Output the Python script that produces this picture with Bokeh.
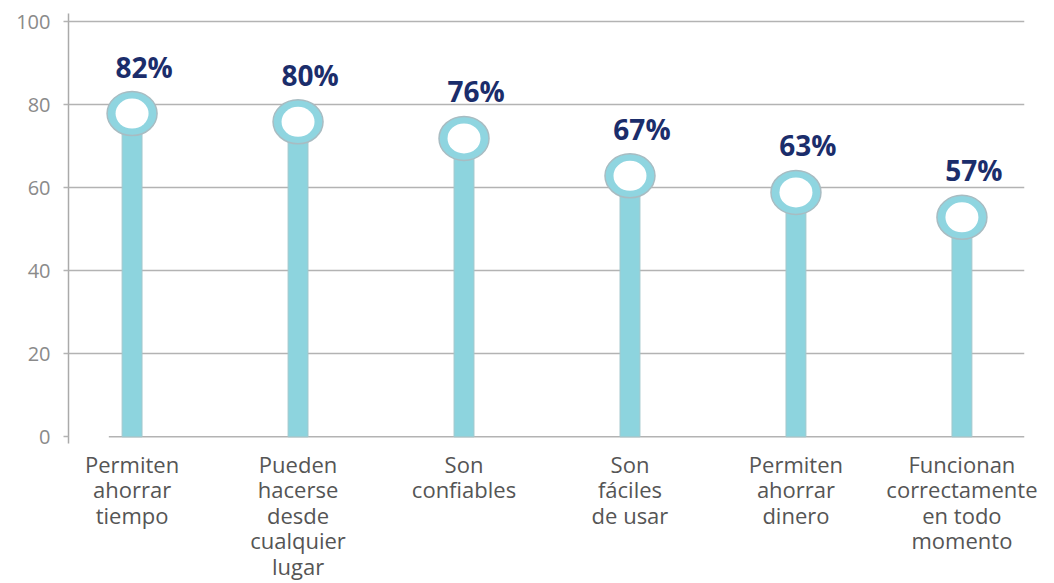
from bokeh.plotting import figure
from bokeh.models import Range1d, FixedTicker
from bokeh.embed import file_html
from bokeh.resources import INLINE
from bokeh.core.properties import value

categories = [
    "Permiten\nahorrar\ntiempo",
    "Pueden\nhacerse\ndesde\ncualquier\nlugar",
    "Son\nconfiables",
    "Son\nfáciles\nde usar",
    "Permiten\nahorrar\ndinero",
    "Funcionan\ncorrectamente\nen todo\nmomento",
]
values = [82, 80, 76, 67, 63, 57]
value_labels = ["82%", "80%", "76%", "67%", "63%", "57%"]
y_ticks = [0, 20, 40, 60, 80, 100]
grid_ticks = [20, 40, 60, 80, 100]

xs = list(range(len(values)))
head_drop = 4.1  # circle centre sits slightly below the value (data units)
heads = [v - head_drop for v in values]

x_lo, x_hi = -0.383, 5.377

p = figure(width=1054, height=583, output_backend="svg", toolbar_location=None,
           x_range=Range1d(x_lo, x_hi), y_range=Range1d(-1.6, 102),
           min_border_left=68, min_border_top=13, min_border_right=30,
           min_border_bottom=0)
p.outline_line_color = None
p.background_fill_color = "white"
p.border_fill_color = "white"

p.xgrid.visible = False
p.ygrid.ticker = FixedTicker(ticks=grid_ticks)
p.ygrid.grid_line_color = "#b3b3b3"
p.ygrid.grid_line_width = 1.5

p.yaxis.ticker = FixedTicker(ticks=y_ticks)
p.yaxis.axis_line_color = "#aaaaaa"
p.yaxis.axis_line_width = 1.5
p.yaxis.major_tick_line_color = "#b3b3b3"
p.yaxis.major_tick_line_width = 1.5
p.yaxis.major_tick_out = 5
p.yaxis.major_tick_in = 0
p.yaxis.minor_tick_line_color = None
p.yaxis.major_label_standoff = 13
p.yaxis.major_label_text_font = "Open Sans"
p.yaxis.major_label_text_font_size = "20px"
p.yaxis.major_label_text_color = "#8a8a8a"

p.xaxis.ticker = FixedTicker(ticks=xs)
p.xaxis.major_label_overrides = {i: c for i, c in zip(xs, categories)}
p.xaxis.axis_line_color = None
p.xaxis.major_tick_line_color = None
p.xaxis.minor_tick_line_color = None
p.xaxis.major_tick_out = 0
p.xaxis.major_tick_in = 0
p.xaxis.major_label_standoff = 5
p.xaxis.major_label_text_font = "Open Sans"
p.xaxis.major_label_text_font_size = "22px"
p.xaxis.major_label_text_color = "#555555"
p.xaxis.major_label_text_line_height = 0.85

# baseline
p.segment(x0=[xs[0] - 0.14], y0=[0], x1=[x_hi], y1=[0],
          line_color="#b3b3b3", line_width=1.5)

# stems
p.vbar(x=xs, bottom=0, top=heads, width=0.12,
       fill_color="#8dd4de", line_color="#a3c8cd", line_width=1)

# heads
p.ellipse(x=xs, y=heads, width=50, height=44, width_units="screen", height_units="screen",
          fill_color="#8fd5e0", line_color="#a8bcc2", line_width=1.5)
p.ellipse(x=xs, y=heads, width=33, height=30, width_units="screen", height_units="screen",
          fill_color="white", line_color=None)

# value labels
p.text(x=xs, y=values, text=value_labels, x_offset=12, y_offset=-30,
       text_align="center", text_baseline="alphabetic",
       text_font=value("Open Sans"), text_font_style="bold",
       text_font_size="28px", text_color="#1b2d6b")

open("out.html", "w").write(file_html(p, INLINE))
